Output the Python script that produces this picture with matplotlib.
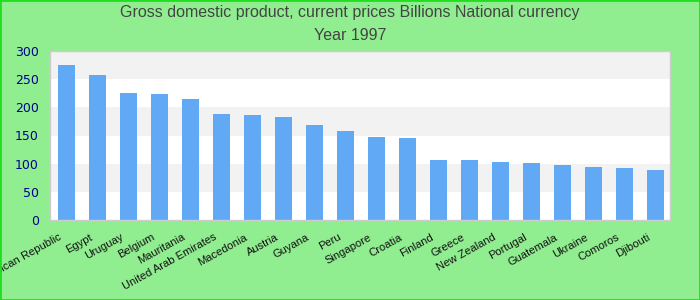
import matplotlib
matplotlib.use('Agg')
import matplotlib.pyplot as plt
import matplotlib.transforms as mtransforms
from matplotlib.patches import Rectangle

countries = ['Dominican Republic', 'Egypt', 'Uruguay', 'Belgium', 'Mauritania',
             'United Arab Emirates', 'Macedonia', 'Austria', 'Guyana', 'Peru',
             'Singapore', 'Croatia', 'Finland', 'Greece', 'New Zealand',
             'Portugal', 'Guatemala', 'Ukraine', 'Comoros', 'Djibouti']
gdp = [276, 258, 226, 223, 214, 189, 187, 183.5, 169, 158.5,
       148, 146, 107, 107, 103.5, 101.5, 98, 94.5, 92.7, 89]
y_ticks = [0, 50, 100, 150, 200, 250, 300]

BG = '#90EE90'
BAR = '#61a9f5'

fig = plt.figure(figsize=(7, 3), dpi=100, facecolor=BG)
fig.patches.append(Rectangle((0, 0), 1, 1, transform=fig.transFigure,
                             fill=False, edgecolor='#22dd22', linewidth=2))
ax = fig.add_axes([50/700, 1 - 220/300, 620/700, 169/300])
ax.set_facecolor('white')

# alternating horizontal bands
for i, (lo, hi) in enumerate(zip(y_ticks[:-1], y_ticks[1:])):
    if i % 2 == 1:
        ax.axhspan(lo, hi, color='#f2f2f2', zorder=0, linewidth=0)

x = range(len(countries))
ax.bar(x, gdp, width=0.55, color=BAR, zorder=2)

ax.set_xlim(-0.53, len(countries) - 0.53)
ax.set_ylim(0, 300)
ax.set_yticks(y_ticks)
ax.tick_params(axis='y', length=0, labelsize=9, labelcolor='#00008b', pad=8)
ax.tick_params(axis='x', length=0, pad=0)
ax.set_xticks(list(x))
ax.set_xticklabels(countries, rotation=29, ha='right', va='top',
                   rotation_mode='anchor', fontsize=8,
                   family='Liberation Sans', color='#111111')
shift = mtransforms.ScaledTranslation(-8/100, -12/100, fig.dpi_scale_trans)
for lbl in ax.get_xticklabels():
    lbl.set_transform(lbl.get_transform() + shift)
for s in ax.spines.values():
    s.set_color('#cccccc')
    s.set_linewidth(1)

fig.text(0.5, 1 - 13/300, 'Gross domestic product, current prices Billions National currency',
         ha='center', va='center', fontsize=11.5, family='Liberation Sans', color='#444444')
fig.text(0.5, 1 - 36/300, 'Year 1997', ha='center', va='center', fontsize=11.5,
         family='Liberation Sans', color='#444444')

fig.savefig('out.png', dpi=100, facecolor=BG)
